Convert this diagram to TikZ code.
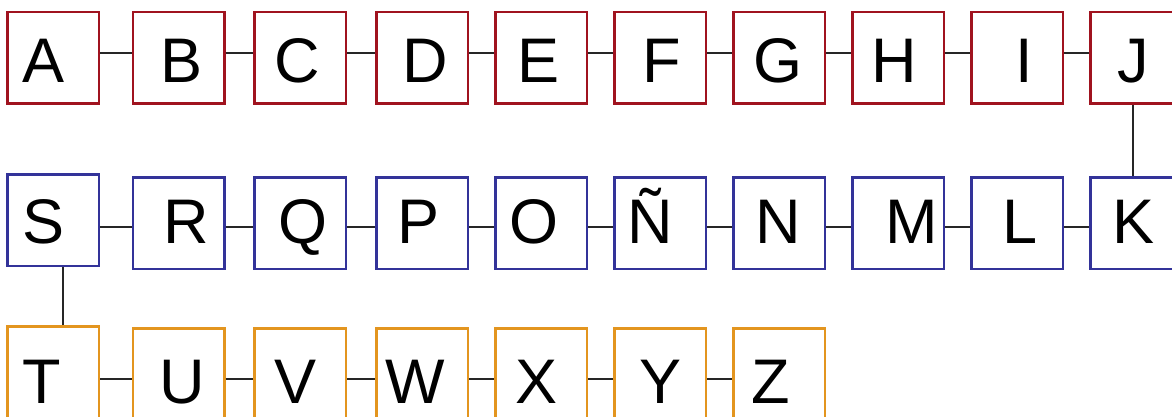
\documentclass[tikz,border=0pt]{standalone}
\usepackage{fontspec}
\setmainfont{Liberation Sans}
\definecolor{rowred}{HTML}{A0131F}
\definecolor{rowblue}{HTML}{333399}
\definecolor{roworange}{HTML}{E3951F}
\begin{document}
\begin{tikzpicture}[x=1pt,y=-1pt,
  box/.style={draw=#1, line width=2.5pt, minimum size=91.5pt, inner sep=0pt},
  letter/.style={anchor=base, font=\fontsize{63}{63}\selectfont, inner sep=0pt},
  link/.style={line width=2.2pt, draw=black!85}]
\useasboundingbox (0,0) rectangle (1172,417);
\clip (0,0) rectangle (1172,417);
% row 1
\foreach \n/\x in {A/53,B/178.5,C/300,D/422,E/541,F/660,G/779,H/898,I/1017,J/1136}
  \node[box=rowred] (\n) at (\x,58) {};
% row 2
\node[box=rowblue] (S) at (53,220) {};
\foreach \n/\x in {R/178.5,Q/300,P/422,O/541,Ntil/660,N/779,M/898,L/1017,K/1136}
  \node[box=rowblue] (\n) at (\x,223) {};
% row 3
\node[box=roworange] (T) at (53,372) {};
\foreach \n/\x in {U/178.5,V/300,W/422,X/541,Y/660,Z/779}
  \node[box=roworange] (\n) at (\x,374) {};
% letters
\foreach \t/\x in {A/44,B/182,C/297,D/425,E/539,F/662,G/778,H/894,I/1024,J/1133}
  \node[letter] (t\t) at (\x,83) {\t};
\foreach \t/\x in {S/44,R/186,Q/303,P/419,O/534,N/778,M/912,L/1020,K/1133}
  \node[letter] (t\t) at (\x,243) {\t};
\node[letter] (tNtil) at (650,243) {Ñ};
\foreach \t/\x in {T/42,U/182,V/296,W/415,X/537,Y/661,Z/771}
  \node[letter] (t\t) at (\x,403) {\t};
% connector levels
\coordinate (r1) at (0,53);
\coordinate (r2) at (0,227);
\coordinate (r3) at (0,379);
\coordinate (cjk) at (1133,0);
\coordinate (cst) at (63,0);
\foreach \a/\b in {A/B,B/C,C/D,D/E,E/F,F/G,G/H,H/I,I/J}
  \draw[link] (\a.east |- r1) -- (\b.west |- r1);
\foreach \a/\b in {S/R,R/Q,Q/P,P/O,O/Ntil,Ntil/N,N/M,M/L,L/K}
  \draw[link] (\a.east |- r2) -- (\b.west |- r2);
\foreach \a/\b in {T/U,U/V,V/W,W/X,X/Y,Y/Z}
  \draw[link] (\a.east |- r3) -- (\b.west |- r3);
\draw[link] (J.south -| cjk) -- (K.north -| cjk);
\draw[link] (S.south -| cst) -- (T.north -| cst);
\end{tikzpicture}
\end{document}
